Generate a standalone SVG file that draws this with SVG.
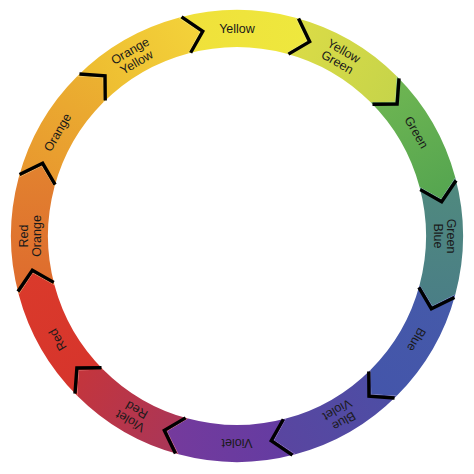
<svg xmlns="http://www.w3.org/2000/svg" width="474" height="474" viewBox="0 0 474 474">
<style>
.lbl{font-family:"Liberation Sans",Arial,sans-serif;font-size:12.5px;fill:#1a1a1a;text-anchor:middle}
.chev{fill:none;stroke:#000;stroke-width:3.4;stroke-linejoin:miter}
</style>
<defs>
<path id="seg" d="M178.51,17.70 A226,226 0 0 1 295.49,17.70 L306.95,40.65 L285.92,53.44 A189,189 0 0 0 188.08,53.44 L199.90,31.84 Z"/>
<polyline id="chev" class="chev" points="295.49,17.70 306.95,40.65 285.92,53.44"/>
<linearGradient id="g0" gradientUnits="userSpaceOnUse" x1="178" y1="0" x2="307" y2="0"><stop offset="0" stop-color="#f0e03a"/><stop offset="1" stop-color="#eee83e"/></linearGradient>
<linearGradient id="g1" gradientUnits="userSpaceOnUse" x1="178" y1="0" x2="307" y2="0"><stop offset="0" stop-color="#dcdc46"/><stop offset="1" stop-color="#c6d44a"/></linearGradient>
<linearGradient id="g2" gradientUnits="userSpaceOnUse" x1="178" y1="0" x2="307" y2="0"><stop offset="0" stop-color="#6fb652"/><stop offset="1" stop-color="#55a550"/></linearGradient>
<linearGradient id="g3" gradientUnits="userSpaceOnUse" x1="178" y1="0" x2="307" y2="0"><stop offset="0" stop-color="#508a7e"/><stop offset="1" stop-color="#4a7e86"/></linearGradient>
<linearGradient id="g4" gradientUnits="userSpaceOnUse" x1="178" y1="0" x2="307" y2="0"><stop offset="0" stop-color="#455aa9"/><stop offset="1" stop-color="#4455aa"/></linearGradient>
<linearGradient id="g5" gradientUnits="userSpaceOnUse" x1="178" y1="0" x2="307" y2="0"><stop offset="0" stop-color="#4c4ea5"/><stop offset="1" stop-color="#5a45a0"/></linearGradient>
<linearGradient id="g6" gradientUnits="userSpaceOnUse" x1="178" y1="0" x2="307" y2="0"><stop offset="0" stop-color="#623ca2"/><stop offset="1" stop-color="#753a9c"/></linearGradient>
<linearGradient id="g7" gradientUnits="userSpaceOnUse" x1="178" y1="0" x2="307" y2="0"><stop offset="0" stop-color="#a8365a"/><stop offset="1" stop-color="#c4353c"/></linearGradient>
<linearGradient id="g8" gradientUnits="userSpaceOnUse" x1="178" y1="0" x2="307" y2="0"><stop offset="0" stop-color="#d6342c"/><stop offset="1" stop-color="#da3a2b"/></linearGradient>
<linearGradient id="g9" gradientUnits="userSpaceOnUse" x1="178" y1="0" x2="307" y2="0"><stop offset="0" stop-color="#de6a2e"/><stop offset="1" stop-color="#e2822f"/></linearGradient>
<linearGradient id="g10" gradientUnits="userSpaceOnUse" x1="178" y1="0" x2="307" y2="0"><stop offset="0" stop-color="#e8962e"/><stop offset="1" stop-color="#ebb131"/></linearGradient>
<linearGradient id="g11" gradientUnits="userSpaceOnUse" x1="178" y1="0" x2="307" y2="0"><stop offset="0" stop-color="#edba30"/><stop offset="1" stop-color="#f3d23a"/></linearGradient>
</defs>

<g id="yellow" transform="rotate(0 237 236)"><use href="#seg" fill="url(#g0)"/><text class="lbl" x="237" y="33">Yellow</text></g>
<g id="yellow-green" transform="rotate(30 237 236)"><use href="#seg" fill="url(#g1)"/><text class="lbl" x="237" y="26.5"><tspan x="237">Yellow</tspan><tspan x="237" dy="13">Green</tspan></text></g>
<g id="green" transform="rotate(60 237 236)"><use href="#seg" fill="url(#g2)"/><text class="lbl" x="237" y="33">Green</text></g>
<g id="green-blue" transform="rotate(90 237 236)"><use href="#seg" fill="url(#g3)"/><text class="lbl" x="237" y="26.5"><tspan x="237">Green</tspan><tspan x="237" dy="13">Blue</tspan></text></g>
<g id="blue" transform="rotate(120 237 236)"><use href="#seg" fill="url(#g4)"/><text class="lbl" x="237" y="33">Blue</text></g>
<g id="blue-violet" transform="rotate(150 237 236)"><use href="#seg" fill="url(#g5)"/><text class="lbl" x="237" y="26.5"><tspan x="237">Blue</tspan><tspan x="237" dy="13">Violet</tspan></text></g>
<g id="violet" transform="rotate(180 237 236)"><use href="#seg" fill="url(#g6)"/><text class="lbl" x="237" y="33">Violet</text></g>
<g id="violet-red" transform="rotate(210 237 236)"><use href="#seg" fill="url(#g7)"/><text class="lbl" x="237" y="26.5"><tspan x="237">Violet</tspan><tspan x="237" dy="13">Red</tspan></text></g>
<g id="red" transform="rotate(240 237 236)"><use href="#seg" fill="url(#g8)"/><text class="lbl" x="237" y="33">Red</text></g>
<g id="red-orange" transform="rotate(270 237 236)"><use href="#seg" fill="url(#g9)"/><text class="lbl" x="237" y="26.5"><tspan x="237">Red</tspan><tspan x="237" dy="13">Orange</tspan></text></g>
<g id="orange" transform="rotate(300 237 236)"><use href="#seg" fill="url(#g10)"/><text class="lbl" x="237" y="33">Orange</text></g>
<g id="orange-yellow" transform="rotate(330 237 236)"><use href="#seg" fill="url(#g11)"/><text class="lbl" x="237" y="26.5"><tspan x="237">Orange</tspan><tspan x="237" dy="13">Yellow</tspan></text></g>

<g id="connectors">
<use href="#chev" transform="rotate(0.8 237 236)"/>
<use href="#chev" transform="rotate(30.8 237 236)"/>
<use href="#chev" transform="rotate(60.8 237 236)"/>
<use href="#chev" transform="rotate(90.8 237 236)"/>
<use href="#chev" transform="rotate(120.8 237 236)"/>
<use href="#chev" transform="rotate(150.8 237 236)"/>
<use href="#chev" transform="rotate(180.8 237 236)"/>
<use href="#chev" transform="rotate(210.8 237 236)"/>
<use href="#chev" transform="rotate(240.8 237 236)"/>
<use href="#chev" transform="rotate(270.8 237 236)"/>
<use href="#chev" transform="rotate(300.8 237 236)"/>
<use href="#chev" transform="rotate(330.8 237 236)"/>
</g>
</svg>
